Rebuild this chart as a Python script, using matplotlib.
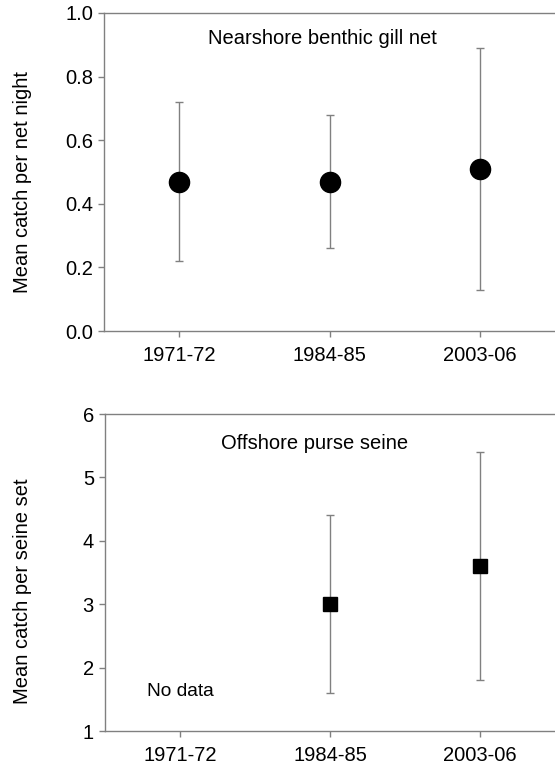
import matplotlib
matplotlib.use("Agg")
import matplotlib.pyplot as plt

# data
periods = ["1971-72", "1984-85", "2003-06"]

gill_mean = [0.47, 0.47, 0.51]
gill_low = [0.22, 0.26, 0.13]
gill_high = [0.72, 0.68, 0.89]

seine_periods = ["1984-85", "2003-06"]
seine_mean = [3.0, 3.6]
seine_low = [1.6, 1.8]
seine_high = [4.4, 5.4]

plt.rcParams["font.family"] = ["Liberation Sans", "DejaVu Sans"]
GRAY = "#808080"
FS = 14.5


def style_axes(ax):
    ax.spines["right"].set_visible(False)
    for s in ("left", "bottom", "top"):
        ax.spines[s].set_color(GRAY)
        ax.spines[s].set_linewidth(1.0)
    ax.tick_params(axis="both", colors=GRAY, labelcolor="black", labelsize=FS,
                   length=4, width=1.0, direction="out")
    ax.tick_params(axis="x", pad=7)
    ax.tick_params(axis="y", pad=4)
    ax.tick_params(top=False, right=False)
    ax.set_xlim(-0.5, 2.5)
    ax.set_xticks(range(len(periods)))
    ax.set_xticklabels(periods)


fig = plt.figure(figsize=(5.55, 7.72), dpi=100)
fig.patch.set_facecolor("white")

# top panel: nearshore gill net
ax1 = fig.add_axes([0.1874, 0.5712, 0.8126, 0.4120])
style_axes(ax1)
x1 = [periods.index(p) for p in periods]
err1 = [[m - l for m, l in zip(gill_mean, gill_low)],
        [h - m for m, h in zip(gill_mean, gill_high)]]
ax1.errorbar(x1, gill_mean, yerr=err1, fmt="o", color="black", markersize=14.5,
             ecolor=GRAY, elinewidth=1.0, capsize=3, capthick=1.0)
ax1.set_ylim(0, 1.0)
ax1.set_yticks([0.0, 0.2, 0.4, 0.6, 0.8, 1.0])
ax1.set_yticklabels([f"{v:.1f}" for v in [0.0, 0.2, 0.4, 0.6, 0.8, 1.0]])
ax1.set_ylabel("Mean catch per net night", fontsize=FS)
ax1.yaxis.set_label_coords(-0.16, 0.47)
ax1.text(0.95, 0.92, "Nearshore benthic gill net", ha="center", va="center", fontsize=FS)

# bottom panel: offshore purse seine
ax2 = fig.add_axes([0.1892, 0.0531, 0.8108, 0.4106])
style_axes(ax2)
x2 = [periods.index(p) for p in seine_periods]
err2 = [[m - l for m, l in zip(seine_mean, seine_low)],
        [h - m for m, h in zip(seine_mean, seine_high)]]
ax2.errorbar(x2, seine_mean, yerr=err2, fmt="s", color="black", markersize=10,
             ecolor=GRAY, elinewidth=1.0, capsize=3, capthick=1.0)
ax2.set_ylim(1, 6)
ax2.set_yticks([1, 2, 3, 4, 5, 6])
ax2.set_ylabel("Mean catch per seine set", fontsize=FS)
ax2.yaxis.set_label_coords(-0.162, 0.44)
ax2.text(0.9, 5.54, "Offshore purse seine", ha="center", va="center", fontsize=FS)
ax2.text(0.0, 1.62, "No data", ha="center", va="center", fontsize=FS * 0.95)

fig.savefig("out.png", dpi=100, facecolor="white")
